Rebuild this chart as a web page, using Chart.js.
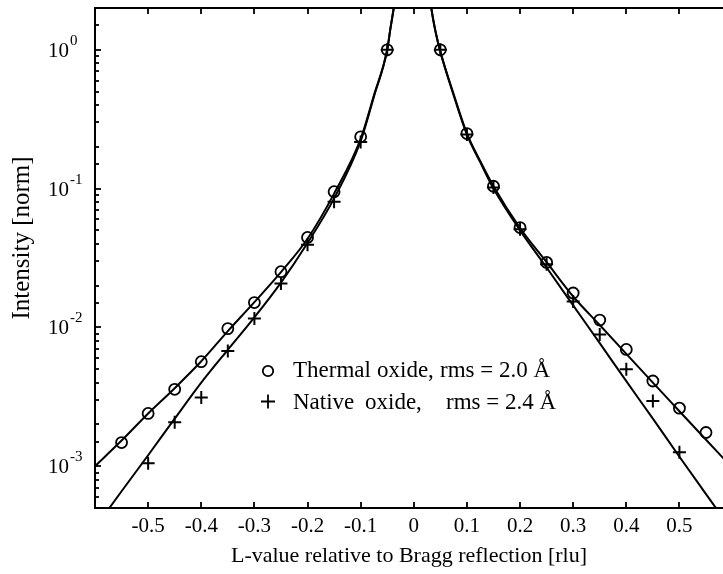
<!DOCTYPE html>
<html><head><meta charset="utf-8">
<script src="https://cdn.jsdelivr.net/npm/chart.js@4"></script>
<style>html,body{margin:0;padding:0;background:#fff}</style>
</head><body>
<canvas id="c" width="723" height="574"></canvas>
<script>
// ---- data ----
const xTickValues = [-0.5,-0.4,-0.3,-0.2,-0.1,0,0.1,0.2,0.3,0.4,0.5];

const thermalX = [-0.55,-0.5,-0.45,-0.4,-0.35,-0.3,-0.25,-0.2,-0.15,-0.1,-0.05,0.05,0.1,0.15,0.2,0.25,0.3,0.35,0.4,0.45,0.5,0.55];
const thermalY = [1.48e-3,2.4e-3,3.58e-3,5.66e-3,9.8e-3,0.0151,0.0252,0.0445,0.095,0.236,1.0,1.0,0.249,0.104,0.0524,0.0294,0.0177,0.0113,6.94e-3,4.11e-3,2.62e-3,1.75e-3];

const nativeX = [-0.5,-0.45,-0.4,-0.35,-0.3,-0.25,-0.2,-0.15,-0.1,-0.05,0.05,0.1,0.15,0.2,0.25,0.3,0.35,0.4,0.45,0.5];
const nativeY = [1.05e-3,2.07e-3,3.12e-3,6.75e-3,0.0116,0.0207,0.0394,0.0805,0.217,1.0,1.0,0.245,0.102,0.051,0.0285,0.0154,8.9e-3,5.0e-3,2.95e-3,1.26e-3];

const fitLeftX  = [-0.6,-0.55,-0.5,-0.45,-0.4,-0.35,-0.3,-0.25,-0.2,-0.15,-0.1,-0.075,-0.05,-0.044,-0.0377,-0.034];
const thermalFitLeftY = [1.0e-3,1.53e-3,2.4e-3,3.65e-3,5.7e-3,9.4e-3,0.0152,0.025,0.0435,0.092,0.228,0.47,1.0,1.42,2.0,2.5];
const nativeFitLeftY  = [3.6e-4,6.6e-4,1.2e-3,2.2e-3,4.0e-3,6.9e-3,0.0118,0.021,0.0405,0.085,0.22,0.46,1.0,1.42,2.0,2.5];

const fitRightX = [0.03,0.033,0.041,0.05,0.075,0.1,0.125,0.15,0.2,0.25,0.3,0.35,0.4,0.45,0.5,0.55,0.6];
const thermalFitRightY = [2.5,2.0,1.35,0.97,0.48,0.25,0.158,0.104,0.052,0.0295,0.0167,0.0104,6.45e-3,4.0e-3,2.49e-3,1.55e-3,9.7e-4];
const nativeFitRightY  = [2.5,2.0,1.35,0.97,0.47,0.245,0.155,0.1,0.05,0.027,0.0144,7.7e-3,4.1e-3,2.2e-3,1.17e-3,6.3e-4,3.4e-4];

const legendNames = ['Thermal', 'Native'];
const legendOxide = ['oxide,', 'oxide,'];
const legendRms = ['rms = 2.0 Å', 'rms = 2.4 Å'];
const xTitle = 'L-value relative to Bragg reflection [rlu]';
const yTitle = 'Intensity [norm]';

const SERIF = '"Liberation Serif", "Times New Roman", serif';
const pts = (xs, ys) => xs.map((x, i) => ({x, y: ys[i]}));

const fitStyle = {showLine: true, borderColor: '#000', borderWidth: 2, pointRadius: 0,
  cubicInterpolationMode: 'monotone', clip: 0, fill: false};

const decor = {
  id: 'decor',
  afterDraw(chart) {
    const {ctx, chartArea: a, scales: {x, y}} = chart;
    ctx.save();
    ctx.strokeStyle = '#000';
    ctx.fillStyle = '#000';
    ctx.lineWidth = 2;
    // top frame line
    ctx.beginPath(); ctx.moveTo(a.left - 1, a.top); ctx.lineTo(a.right, a.top); ctx.stroke();
    // x ticks (bottom and top, inward)
    ctx.lineWidth = 1.8;
    xTickValues.forEach(v => {
      const px = Math.round(x.getPixelForValue(v));
      ctx.beginPath();
      ctx.moveTo(px, a.bottom); ctx.lineTo(px, a.bottom - 6);
      ctx.moveTo(px, a.top); ctx.lineTo(px, a.top + 6);
      ctx.stroke();
    });
    // y ticks and labels
    y.ticks.forEach(t => {
      const v = t.value;
      const lg = Math.log10(v);
      const major = Math.abs(lg - Math.round(lg)) < 1e-6;
      const py = Math.round(y.getPixelForValue(v));
      if (py < a.top + 1 || py > a.bottom - 1) return;
      ctx.beginPath(); ctx.moveTo(a.left, py); ctx.lineTo(a.left + (major ? 6 : 4), py); ctx.stroke();
      if (major) {
        const lx = a.left - 47;
        ctx.font = '21px ' + SERIF;
        ctx.textAlign = 'left'; ctx.textBaseline = 'alphabetic';
        ctx.fillText('10', lx, py + 7);
        const w = ctx.measureText('10').width;
        ctx.font = '15px ' + SERIF;
        ctx.fillText(String(Math.round(lg)), lx + w + 1, py - 5);
      }
    });
    // y title
    ctx.save();
    ctx.translate(a.left - 73, a.top + 230);
    ctx.rotate(-Math.PI / 2);
    ctx.font = '25px ' + SERIF;
    ctx.textAlign = 'center'; ctx.textBaseline = 'middle';
    ctx.fillText(yTitle, 0, 0);
    ctx.restore();
    // legend
    const lx = a.left + 173, ly0 = a.top + 369, dy = 31.5;
    ctx.font = '23px ' + SERIF;
    ctx.textAlign = 'left'; ctx.textBaseline = 'alphabetic';
    for (let i = 0; i < 2; i++) {
      const ly = ly0 + i * dy;
      ctx.lineWidth = 1.8;
      ctx.beginPath();
      if (i === 0) { ctx.arc(lx, ly - 6, 5.2, 0, Math.PI * 2); }
      else { ctx.moveTo(lx - 7, ly - 7); ctx.lineTo(lx + 7, ly - 7); ctx.moveTo(lx, ly - 14); ctx.lineTo(lx, ly); }
      ctx.stroke();
      ctx.fillText(legendNames[i], lx + 25, ly);
      ctx.fillText(legendOxide[i], lx + (i === 0 ? 109 : 97), ly);
      ctx.fillText(legendRms[i], lx + (i === 0 ? 172 : 178), ly);
    }
    ctx.restore();
  }
};

new Chart(document.getElementById('c'), {
  type: 'scatter',
  data: {
    datasets: [
      Object.assign({label: 'thermal fit L', data: pts(fitLeftX, thermalFitLeftY)}, fitStyle),
      Object.assign({label: 'native fit L', data: pts(fitLeftX, nativeFitLeftY)}, fitStyle),
      Object.assign({label: 'thermal fit R', data: pts(fitRightX, thermalFitRightY)}, fitStyle),
      Object.assign({label: 'native fit R', data: pts(fitRightX, nativeFitRightY)}, fitStyle),
      {label: 'Thermal oxide', data: pts(thermalX, thermalY), showLine: false, pointStyle: 'circle',
       pointRadius: 5.5, pointBorderWidth: 1.8, pointBorderColor: '#000', pointBackgroundColor: 'rgba(0,0,0,0)', clip: false},
      {label: 'Native oxide', data: pts(nativeX, nativeY), showLine: false, pointStyle: 'cross',
       pointRadius: 6.5, pointBorderWidth: 2, pointBorderColor: '#000', clip: false}
    ]
  },
  options: {
    responsive: false,
    animation: false,
    devicePixelRatio: 1,
    layout: {autoPadding: false, padding: {top: 8, left: 0, right: 0, bottom: 0}},
    plugins: {legend: {display: false}, tooltip: {enabled: false}},
    scales: {
      x: {
        type: 'linear', min: -0.6, max: 0.582,
        afterBuildTicks: s => { s.ticks = xTickValues.map(v => ({value: v})); },
        afterFit: s => { s.height = 66; s.paddingLeft = 0; s.paddingRight = 0; },
        grid: {display: false, drawTicks: false},
        border: {display: true, color: '#000', width: 2},
        ticks: {color: '#000', font: {family: SERIF, size: 21}, padding: 6, maxRotation: 0, autoSkip: false,
                callback: v => v === 0 ? '0' : v.toFixed(1)},
        title: {display: true, text: xTitle, color: '#000', font: {family: SERIF, size: 22}, padding: {top: 0, bottom: 5}}
      },
      y: {
        type: 'logarithmic', min: 5e-4, max: 2,
        afterFit: s => { s.width = 95; s.paddingTop = 0; s.paddingBottom = 0; },
        grid: {display: false, drawTicks: false},
        border: {display: true, color: '#000', width: 2},
        ticks: {display: false}
      }
    }
  },
  plugins: [decor]
});
</script>
</body></html>
